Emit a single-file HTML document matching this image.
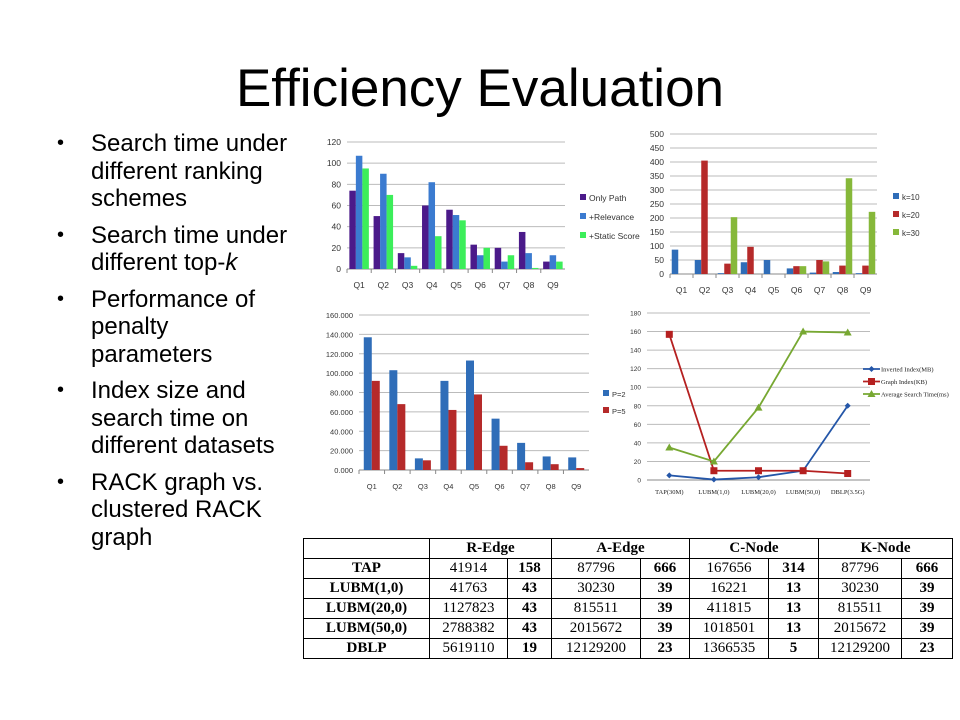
<!DOCTYPE html>
<html><head><meta charset="utf-8"><style>
body{margin:0;background:#fff;}
#slide{position:relative;width:960px;height:720px;overflow:hidden;font-family:"Liberation Sans",sans-serif;}
#title{position:absolute;left:0;width:960px;top:58px;text-align:center;font-size:53px;color:#000;}
ul{position:absolute;left:55px;top:130px;margin:0;padding:0;list-style:none;width:300px;}
li{position:relative;padding-left:36px;font-size:24px;line-height:27.5px;margin-bottom:9px;color:#000;white-space:nowrap;}
li:before{content:"•";position:absolute;left:2px;font-size:20px;}
table{position:absolute;left:303px;top:538px;border-collapse:collapse;font-family:"Liberation Serif",serif;font-size:15px;}
td{border:1px solid #000;height:19px;padding:0;text-align:center;}
td.b{font-weight:bold;}
svg text{font-family:"Liberation Sans",sans-serif;}
</style></head><body>
<div id="slide">
<div id="title">Efficiency Evaluation</div>
<ul>
<li>Search time under<br>different ranking<br>schemes</li>
<li>Search time under<br>different top-<i>k</i></li>
<li>Performance of<br>penalty<br>parameters</li>
<li>Index size and<br>search time on<br>different datasets</li>
<li>RACK graph vs.<br>clustered RACK<br>graph</li>
</ul>
<svg id="charts" width="960" height="720" style="position:absolute;left:0;top:0"></svg>
<table>
<tr><td style="width:125px"></td><td colspan="2" class="b">R-Edge</td><td colspan="2" class="b">A-Edge</td><td colspan="2" class="b">C-Node</td><td colspan="2" class="b">K-Node</td></tr>
<tr><td class="b">TAP</td><td style="width:77px">41914</td><td class="b" style="width:43px">158</td><td style="width:88px">87796</td><td class="b" style="width:48px">666</td><td style="width:78px">167656</td><td class="b" style="width:49px">314</td><td style="width:82px">87796</td><td class="b" style="width:50px">666</td></tr>
<tr><td class="b">LUBM(1,0)</td><td>41763</td><td class="b">43</td><td>30230</td><td class="b">39</td><td>16221</td><td class="b">13</td><td>30230</td><td class="b">39</td></tr>
<tr><td class="b">LUBM(20,0)</td><td>1127823</td><td class="b">43</td><td>815511</td><td class="b">39</td><td>411815</td><td class="b">13</td><td>815511</td><td class="b">39</td></tr>
<tr><td class="b">LUBM(50,0)</td><td>2788382</td><td class="b">43</td><td>2015672</td><td class="b">39</td><td>1018501</td><td class="b">13</td><td>2015672</td><td class="b">39</td></tr>
<tr><td class="b">DBLP</td><td>5619110</td><td class="b">19</td><td>12129200</td><td class="b">23</td><td>1366535</td><td class="b">5</td><td>12129200</td><td class="b">23</td></tr>
</table>
</div>
<script>
const queries=["Q1","Q2","Q3","Q4","Q5","Q6","Q7","Q8","Q9"];
const rankOnlyPath=[74,50,15,60,56,23,20,35,7];
const rankRelevance=[107,90,11,82,51,13,7,15,13];
const rankStatic=[95,70,3,31,46,20,13,1,7];
const rankTicks=[0,20,40,60,80,100,120];
const topk10=[87,50,3,42,50,20,5,7,3];
const topk20=[0,405,37,97,0,28,50,30,30];
const topk30=[0,0,203,0,0,28,45,342,222];
const topkTicks=[0,50,100,150,200,250,300,350,400,450,500];
const penP2=[137,103,12,92,113,53,28,14,13];
const penP5=[92,68,10,62,78,25,8,6,2];
const penTicks=["0.000","20.000","40.000","60.000","80.000","100.000","120.000","140.000","160.000"];
const datasets=["TAP(30M)","LUBM(1,0)","LUBM(20,0)","LUBM(50,0)","DBLP(3.5G)"];
const invIndex=[5,0.5,3,10,80];
const graphIndex=[157,10,10,10,7];
const avgTime=[35,20,78,160,159];
const lineTicks=[0,20,40,60,80,100,120,140,160,180];

const NS="http://www.w3.org/2000/svg";
const svg=document.getElementById('charts');
function mk(tag,attrs,parent,txt){const e=document.createElementNS(NS,tag);for(const k in attrs)e.setAttribute(k,attrs[k]);if(txt!==undefined)e.textContent=txt;(parent||svg).appendChild(e);return e;}

function barChart(name,cfg){
  const g=mk('g',{});
  
  
  const maxV=cfg.max;
  const y=v=>cfg.y0-(v/maxV)*(cfg.y0-cfg.y1);
  const band=(cfg.x1-cfg.x0)/cfg.cats.length;
  cfg.ticks.forEach(t=>{const v=parseFloat(t);const yy=y(v);
    const l=mk('line',{x1:cfg.x0,x2:cfg.x1,y1:yy,y2:yy,stroke:v===0?'#888':'#bbb','stroke-width':1},g);
    
    const tx=mk('text',{x:cfg.x0-6,y:yy+3,'font-size':cfg.fs,'text-anchor':'end',fill:'#333'},g,t);
    });
  const n=cfg.series.length;
  cfg.cats.forEach((c,i)=>{
    const cx=cfg.x0+band*(i+0.5);
    cfg.series.forEach((s,j)=>{
      const v=s.data[i];const bx=cx-n*cfg.bw/2+j*cfg.bw;
      const r=mk('rect',{x:bx,y:y(v),width:cfg.bw,height:y(0)-y(v),fill:s.color},g);
      });
    const t=mk('text',{x:cx,y:cfg.labY,'font-size':cfg.fs,'text-anchor':'middle',fill:'#333'},g,c);
    
    const tk=mk('line',{x1:cfg.x0+band*i,x2:cfg.x0+band*i,y1:y(0),y2:y(0)+4,stroke:'#888'},g);
    
  });
  cfg.series.forEach((s,j)=>{
    const ly=cfg.legY+j*cfg.legGap;
    const r=mk('rect',{x:cfg.legX,y:ly-4,width:6,height:6,fill:s.color},g);
    
    const t=mk('text',{x:cfg.legX+9,y:ly+3,'font-size':cfg.legFs,fill:'#333'},g,s.label);
    
  });
}
barChart('ranking-chart',{x0:347,x1:565,y0:269,y1:142,max:120,ticks:rankTicks.map(String),cats:queries,bw:6.5,labY:288,fs:8.5,legX:580,legY:198,legGap:19,legFs:8.5,
 series:[{key:'only-path',label:'Only Path',color:'#4b1a8a',data:rankOnlyPath},{key:'relevance',label:'+Relevance',color:'#3b7bd0',data:rankRelevance},{key:'static-score',label:'+Static Score',color:'#3cee5a',data:rankStatic}]});
barChart('topk-chart',{x0:670,x1:877,y0:274,y1:134,max:500,ticks:topkTicks.map(String),cats:queries,bw:6.5,labY:293,fs:8.5,legX:893,legY:197,legGap:18,legFs:8,
 series:[{key:'k10',label:'k=10',color:'#2f6db8',data:topk10},{key:'k20',label:'k=20',color:'#b52a2a',data:topk20},{key:'k30',label:'k=30',color:'#86b83a',data:topk30}]});
barChart('penalty-chart',{x0:359,x1:589,y0:470,y1:315,max:160,ticks:penTicks,cats:queries,bw:8,labY:489,fs:7.5,legX:603,legY:394,legGap:17,legFs:7.5,
 series:[{key:'p2',label:'P=2',color:'#2f6db8',data:penP2},{key:'p5',label:'P=5',color:'#b52a2a',data:penP5}]});

(function(){
  const g=mk('g',{});
  
  const x0=647,x1=870,y0=480,y1=313,max=180;
  const y=v=>y0-(v/max)*(y0-y1);
  const band=(x1-x0)/datasets.length;
  const x=i=>x0+band*(i+0.5);
  lineTicks.forEach(t=>{const yy=y(t);
    const l=mk('line',{x1:x0,x2:x1,y1:yy,y2:yy,stroke:t===0?'#888':'#bbb'},g);
    
    const tx=mk('text',{x:x0-6,y:yy+2.5,'font-size':6.5,'text-anchor':'end',fill:'#333'},g,t);
    });
  datasets.forEach((d,i)=>{const t=mk('text',{x:x(i),y:494,'font-size':6.5,'text-anchor':'middle',fill:'#222'},g,d);
    t.style.fontFamily='"Liberation Serif",serif';
    });
  const series=[{key:'inverted-index',label:'Inverted Index(MB)',color:'#2456a8',data:invIndex,m:'d'},
    {key:'graph-index',label:'Graph Index(KB)',color:'#b52020',data:graphIndex,m:'s'},
    {key:'avg-search-time',label:'Average Search Time(ms)',color:'#77a832',data:avgTime,m:'t'}];
  function marker(cx,cy,m,c,name){let e;
    if(m==='s')e=mk('rect',{x:cx-3.5,y:cy-3.5,width:7,height:7,fill:c},g);
    else if(m==='t')e=mk('polygon',{points:`${cx},${cy-4} ${cx+4},${cy+3} ${cx-4},${cy+3}`,fill:c},g);
    else e=mk('polygon',{points:`${cx},${cy-3} ${cx+3},${cy} ${cx},${cy+3} ${cx-3},${cy}`,fill:c},g);
    }
  series.forEach((s,j)=>{
    const p=mk('polyline',{points:s.data.map((v,i)=>x(i)+','+y(v)).join(' '),fill:'none',stroke:s.color,'stroke-width':1.8},g);
    
    s.data.forEach((v,i)=>marker(x(i),y(v),s.m,s.color,'point-'+s.key));
    const ly=369+j*12.5;
    const l=mk('line',{x1:863,x2:880,y1:ly,y2:ly,stroke:s.color,'stroke-width':1.8},g);
    
    marker(871.5,ly,s.m,s.color,'legend-marker-'+s.key);
    const t=mk('text',{x:881,y:ly+2.5,'font-size':6.5,fill:'#222'},g,s.label);
    t.style.fontFamily='"Liberation Serif",serif';
    
  });
})();
</script>
</body></html>
